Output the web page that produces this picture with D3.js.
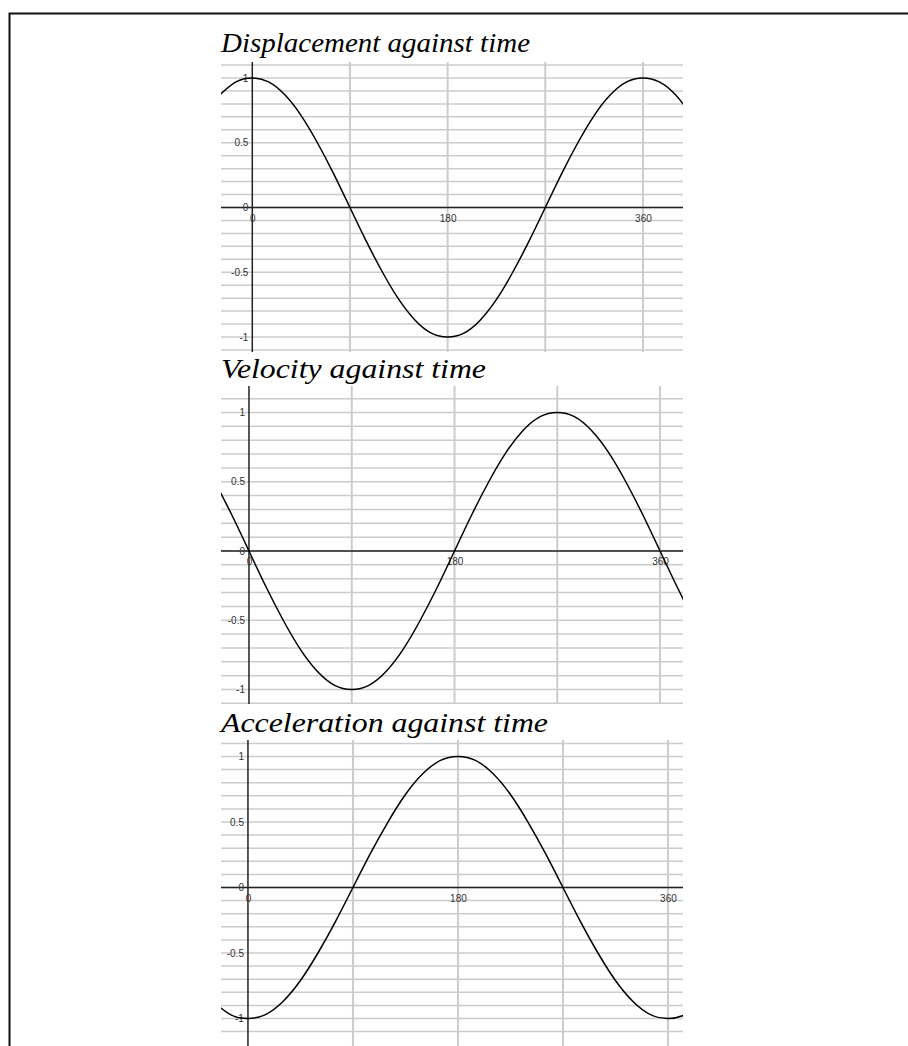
<!DOCTYPE html>
<html><head><meta charset="utf-8">
<script src="https://cdn.jsdelivr.net/npm/d3@7"></script>
<style>body{margin:0;background:#fff;} svg{display:block;}</style>
</head><body><svg id="c" width="908" height="1046"></svg>
<script>
// ---- data ----
const timeDeg = [-30,-15,0,15,30,45,60,75,90,105,120,135,150,165,180,195,210,225,240,255,270,285,300,315,330,345,360,375,390,405];
const displacement = [0.87,0.97,1,0.97,0.87,0.71,0.5,0.26,0,-0.26,-0.5,-0.71,-0.87,-0.97,-1,-0.97,-0.87,-0.71,-0.5,-0.26,0,0.26,0.5,0.71,0.87,0.97,1,0.97,0.87,0.71];
const velocity = [0.5,0.26,0,-0.26,-0.5,-0.71,-0.87,-0.97,-1,-0.97,-0.87,-0.71,-0.5,-0.26,0,0.26,0.5,0.71,0.87,0.97,1,0.97,0.87,0.71,0.5,0.26,0,-0.26,-0.5,-0.71];
const acceleration = [-0.87,-0.97,-1,-0.97,-0.87,-0.71,-0.5,-0.26,0,0.26,0.5,0.71,0.87,0.97,1,0.97,0.87,0.71,0.5,0.26,0,-0.26,-0.5,-0.71,-0.87,-0.97,-1,-0.97,-0.87,-0.71];
const panelTitles = ["Displacement against time","Velocity against time","Acceleration against time"];
const xTickLabels = [0,180,360];
const yTickLabels = [-1,-0.5,0,0.5,1];
const xGridValues = [0,90,180,270,360];
const yGridValues = [-1.1,-1,-0.9,-0.8,-0.7,-0.6,-0.5,-0.4,-0.3,-0.2,-0.1,0,0.1,0.2,0.3,0.4,0.5,0.6,0.7,0.8,0.9,1,1.1];

// ---- layout ----
const left = 221, right = 683;
const panels = [
  {title: panelTitles[0], values: displacement, xDomain: [-28.84, 396.9], yDomain: [-1.1158, 1.1236], top: 62, bottom: 352, titleY: 52, titleW: 309},
  {title: panelTitles[1], values: velocity, xDomain: [-24.5, 380.1], yDomain: [-1.1047, 1.1913], top: 386, bottom: 704, titleY: 378, titleW: 265},
  {title: panelTitles[2], values: acceleration, xDomain: [-23.1, 372.9], yDomain: [-1.2099, 1.126], top: 740, bottom: 1046, titleY: 732, titleW: 327}
];

const svg = d3.select("#c");
svg.append("rect").attr("width", 908).attr("height", 1046).attr("fill", "#fff");

panels.forEach((p, i) => {
  const x = d3.scaleLinear().domain(p.xDomain).range([left, right]);
  const y = d3.scaleLinear().domain(p.yDomain).range([p.bottom, p.top]);
  const g = svg.append("g");
  const clipId = "clip" + i;
  svg.append("clipPath").attr("id", clipId).append("rect")
    .attr("x", left).attr("y", p.top).attr("width", right - left).attr("height", p.bottom - p.top);

  // horizontal gridlines
  g.selectAll(".hg").data(yGridValues).join("line")
    .attr("x1", left).attr("x2", right)
    .attr("y1", d => y(d)).attr("y2", d => y(d))
    .attr("stroke", "#cccccc").attr("stroke-width", 1.5);
  // vertical gridlines
  g.selectAll(".vg").data(xGridValues.filter(d => d > 0)).join("line")
    .attr("x1", d => x(d)).attr("x2", d => x(d))
    .attr("y1", p.top).attr("y2", p.bottom)
    .attr("stroke", "#cccccc").attr("stroke-width", 2);

  // axis lines
  g.append("line").attr("x1", left).attr("x2", right).attr("y1", y(0)).attr("y2", y(0))
    .attr("stroke", "#222").attr("stroke-width", 1.5);
  g.append("line").attr("x1", x(0)).attr("x2", x(0)).attr("y1", p.top).attr("y2", p.bottom)
    .attr("stroke", "#222").attr("stroke-width", 1.5);

  // tick labels
  const yAxis = d3.axisLeft(y).tickValues(yTickLabels).tickSize(0).tickPadding(4).tickFormat(d => String(d));
  const ya = g.append("g").attr("transform", `translate(${x(0)},0)`).call(yAxis);
  const xAxis = d3.axisBottom(x).tickValues(xTickLabels).tickSize(0).tickPadding(7).tickFormat(d => String(d));
  const xa = g.append("g").attr("transform", `translate(0,${y(0)})`).call(xAxis);
  [ya, xa].forEach(a => {
    a.select(".domain").remove();
    a.selectAll("text").attr("font-family", "'Liberation Sans', Arial, sans-serif").attr("font-size", 10).attr("fill", "#333");
  });

  // curve
  const line = d3.line().x((d, k) => x(timeDeg[k])).y(d => y(d)).curve(d3.curveNatural);
  g.append("path").attr("clip-path", `url(#${clipId})`).attr("d", line(p.values))
    .attr("fill", "none").attr("stroke", "#000").attr("stroke-width", 1.5);

  // title
  svg.append("text").attr("x", left).attr("y", p.titleY)
    .attr("font-family", "'Liberation Serif', 'Times New Roman', serif")
    .attr("font-style", "italic").attr("font-size", 28).attr("fill", "#000")
    .attr("textLength", p.titleW).attr("lengthAdjust", "spacingAndGlyphs")
    .text(p.title);
});

// frame
svg.append("path").attr("d", "M9.5,1046V13.5H908").attr("fill", "none").attr("stroke", "#111").attr("stroke-width", 2);
</script></body></html>
